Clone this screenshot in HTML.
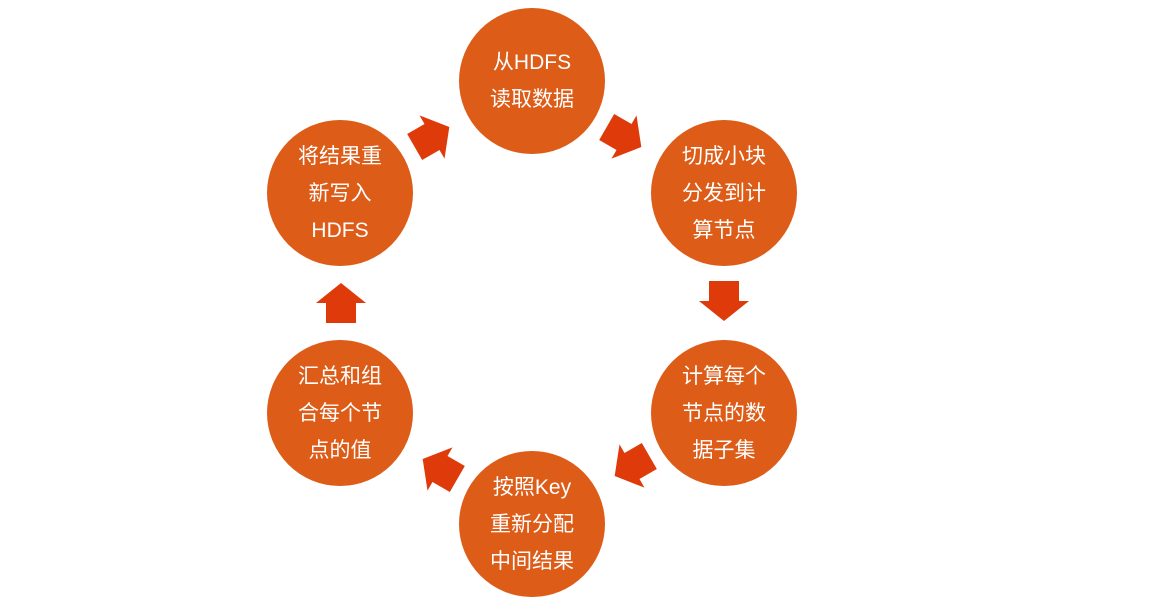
<!DOCTYPE html>
<html><head><meta charset="utf-8"><style>
body{margin:0;width:1153px;height:602px;background:#fff;position:relative;overflow:hidden;font-family:"Liberation Sans","Noto Sans CJK SC",sans-serif}
.c{position:absolute;width:146px;height:146px;border-radius:50%;background:#DC5C18;color:#fff;display:flex;align-items:center;justify-content:center;text-align:center;font-size:21px;line-height:37px}
svg{position:absolute;left:0;top:0}
</style></head><body>
<div class="c" style="left:459px;top:8px">从HDFS<br>读取数据</div>
<div class="c" style="left:651px;top:120px">切成小块<br>分发到计<br>算节点</div>
<div class="c" style="left:651px;top:340px">计算每个<br>节点的数<br>据子集</div>
<div class="c" style="left:459px;top:451px">按照Key<br>重新分配<br>中间结果</div>
<div class="c" style="left:267px;top:340px">汇总和组<br>合每个节<br>点的值</div>
<div class="c" style="left:267px;top:120px">将结果重<br>新写入<br>HDFS</div>
<svg width="1153" height="602">
<defs><polygon id="a" points="0,-20 25,0 15,0 15,20 -15,20 -15,0 -25,0" fill="#DF3A0A"/></defs>
<use href="#a" transform="translate(341,303)"/>
<use href="#a" transform="translate(724,301) rotate(180)"/>
<use href="#a" transform="translate(432,137) rotate(60)"/>
<use href="#a" transform="translate(624,137) rotate(120)"/>
<use href="#a" transform="translate(632,466) rotate(240)"/>
<use href="#a" transform="translate(440,469) rotate(300)"/>
</svg>
</body></html>
